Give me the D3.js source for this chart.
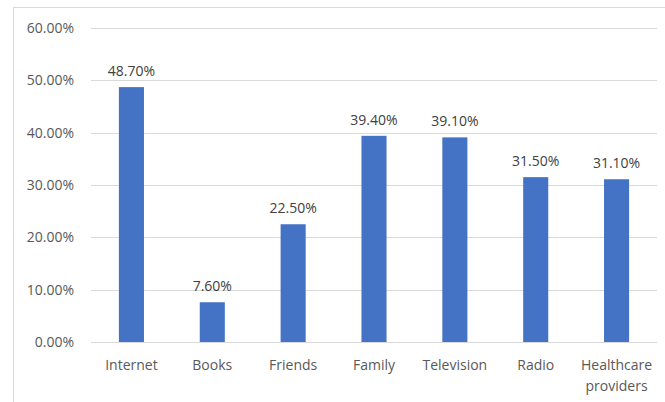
<!DOCTYPE html>
<html>
<head>
    <meta charset="utf-8">
    <style>
        body { margin: 0; background: #fff; }
        svg { font-family: 'Open Sans', 'Noto Sans', sans-serif; }
    </style>
</head>
<body>
    <svg width="665" height="402"></svg>

<script src="https://d3js.org/d3.v7.min.js"></script>
<script>
    // data
    let categories = ["Internet", "Books", "Friends", "Family", "Television", "Radio", "Healthcare providers"]
    let values = [48.7, 7.6, 22.5, 39.4, 39.1, 31.5, 31.1]
    let yTicks = [0, 10, 20, 30, 40, 50, 60]

    let data = categories.map((c, i) => ({ name: c, value: values[i] }))

    let svg = d3.select("svg")

    // chart frame (cropped on the right and bottom in the original)
    svg.append("rect")
        .attr("x", 13.5).attr("y", 7.5)
        .attr("width", 700).attr("height", 450)
        .style("fill", "none")
        .style("stroke", "#d9d9d9")
        .style("stroke-width", 1)

    let plotLeft = 91, plotRight = 657, plotTop = 28, plotBottom = 342

    let x = d3.scaleBand()
        .domain(categories)
        .range([plotLeft, plotRight])
        .paddingInner(0.69)
        .paddingOuter(0.345)

    let y = d3.scaleLinear()
        .domain([0, 60])
        .range([plotBottom, plotTop])

    // gridlines
    svg.selectAll(".grid")
        .data(yTicks)
        .join("line")
        .attr("x1", plotLeft).attr("x2", plotRight)
        .attr("y1", d => Math.round(y(d)) + 0.5)
        .attr("y2", d => Math.round(y(d)) + 0.5)
        .style("stroke", "#d9d9d9")
        .style("stroke-width", 1)

    // y labels
    svg.selectAll(".ylab")
        .data(yTicks)
        .join("text")
        .attr("x", 74)
        .attr("y", d => y(d))
        .attr("dy", "0.35em")
        .attr("text-anchor", "end")
        .style("font-size", "14px")
        .style("fill", "#595959")
        .text(d => d.toFixed(2) + "%")

    // bars
    svg.selectAll(".bar")
        .data(data)
        .join("rect")
        .attr("x", d => x(d.name))
        .attr("width", x.bandwidth())
        .attr("y", d => y(d.value))
        .attr("height", d => y(0) - y(d.value))
        .style("fill", "#4472c4")

    // value labels
    svg.selectAll(".val")
        .data(data)
        .join("text")
        .attr("x", d => x(d.name) + x.bandwidth() / 2)
        .attr("y", d => y(d.value) - 11)
        .attr("text-anchor", "middle")
        .style("font-size", "14px")
        .style("fill", "#404040")
        .text(d => d.value.toFixed(2) + "%")

    // category labels (wrap the long one)
    let cats = svg.selectAll(".cat")
        .data(data)
        .join("text")
        .attr("x", d => x(d.name) + x.bandwidth() / 2)
        .attr("y", 370)
        .attr("text-anchor", "middle")
        .style("font-size", "14px")
        .style("fill", "#595959")

    cats.each(function (d) {
        let t = d3.select(this)
        let words = d.name.split(" ")
        words.forEach((w, i) => {
            t.append("tspan")
                .attr("x", x(d.name) + x.bandwidth() / 2)
                .attr("dy", i == 0 ? 0 : 21)
                .text(w)
        })
    })
</script>
</body>
</html>
